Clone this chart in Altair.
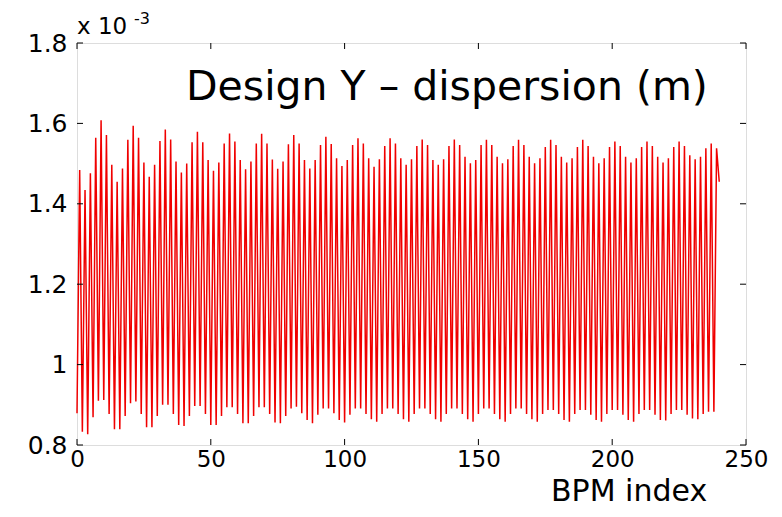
import altair as alt
import pandas as pd

# Design vertical dispersion at BPMs, in units of 1e-3 m
# odd BPM indices 1,3,...,239 (upper points)
highs = [
    1.484, 1.434, 1.476, 1.564, 1.608, 1.571, 1.497, 1.455, 1.488, 1.559, 1.594, 1.564,
    1.503, 1.467, 1.497, 1.556, 1.585, 1.560, 1.505, 1.478, 1.500, 1.553, 1.579, 1.553,
    1.509, 1.482, 1.503, 1.550, 1.575, 1.555, 1.509, 1.486, 1.505, 1.550, 1.574, 1.550,
    1.510, 1.487, 1.505, 1.548, 1.571,
    1.550, 1.509, 1.488, 1.509, 1.546, 1.567, 1.549, 1.513, 1.494, 1.509, 1.546, 1.563,
    1.550, 1.513, 1.492, 1.511, 1.544, 1.563, 1.550, 1.513, 1.497, 1.511, 1.544, 1.560,
    1.546, 1.509, 1.497, 1.511, 1.544, 1.560, 1.546, 1.517, 1.501, 1.509, 1.546, 1.559,
    1.546, 1.517, 1.501, 1.511, 1.544,
    1.559, 1.546, 1.517, 1.501, 1.513, 1.541, 1.559, 1.546, 1.517, 1.503, 1.513, 1.541,
    1.559, 1.544, 1.517, 1.501, 1.513, 1.541, 1.555, 1.544, 1.517, 1.503, 1.513, 1.541,
    1.555, 1.544, 1.517, 1.503, 1.513, 1.541, 1.555, 1.544, 1.521, 1.511, 1.517, 1.538,
    1.550, 1.538,
]
# even BPM indices 0,2,...,238 (lower points)
lows = [
    0.879, 0.833, 0.827, 0.869, 0.910, 0.912, 0.877, 0.839, 0.839, 0.872, 0.904, 0.908,
    0.877, 0.844, 0.844, 0.872, 0.900, 0.900, 0.877, 0.850, 0.847, 0.872, 0.897, 0.897,
    0.877, 0.850, 0.850, 0.872, 0.894, 0.894, 0.877, 0.854, 0.854, 0.872, 0.894, 0.894,
    0.877, 0.856, 0.854, 0.872, 0.891, 0.895,
    0.879, 0.862, 0.854, 0.875, 0.891, 0.891, 0.879, 0.862, 0.856, 0.875, 0.891, 0.891,
    0.877, 0.864, 0.858, 0.877, 0.891, 0.891, 0.877, 0.864, 0.858, 0.877, 0.891, 0.891,
    0.877, 0.864, 0.858, 0.877, 0.891, 0.891, 0.877, 0.864, 0.858, 0.877, 0.891, 0.891,
    0.877, 0.864, 0.858, 0.877, 0.891,
    0.891, 0.877, 0.864, 0.858, 0.877, 0.887, 0.887, 0.877, 0.862, 0.858, 0.877, 0.887,
    0.887, 0.875, 0.862, 0.858, 0.877, 0.887, 0.887, 0.875, 0.862, 0.858, 0.877, 0.887,
    0.887, 0.875, 0.862, 0.861, 0.877, 0.887, 0.887, 0.875, 0.866, 0.864, 0.877, 0.883,
    0.883,
]
last_value = 1.455  # BPM index 240

x_ticks = [0, 50, 100, 150, 200, 250]
y_ticks = [0.8, 1.0, 1.2, 1.4, 1.6, 1.8]

# build the table by interleaving
rows = []
for k in range(len(lows)):
    rows.append({"bpm": 2 * k, "disp": lows[k]})
    rows.append({"bpm": 2 * k + 1, "disp": highs[k]})
rows.append({"bpm": 240, "disp": last_value})
df = pd.DataFrame(rows)

W, H = 669, 402
FONT = "DejaVu Sans"
xscale = alt.Scale(domain=[0, 250], nice=False, zero=False)
yscale = alt.Scale(domain=[0.8, 1.8], nice=False, zero=False)
xaxis = alt.Axis(values=x_ticks, title=None, ticks=False, domain=False, grid=False,
                 labelFont=FONT, labelFontSize=23, labelColor="black",
                 labelPadding=3, labelFlush=False, labelOverlap=False)
yaxis = alt.Axis(values=y_ticks, title=None, ticks=False, domain=False, grid=False,
                 format=".1~f",
                 labelFont=FONT, labelFontSize=25, labelColor="black",
                 labelPadding=10, labelFlush=False, labelOverlap=False)

line = alt.Chart(df).mark_line(color="#f00000", strokeWidth=1.5).encode(
    x=alt.X("bpm:Q", scale=xscale, axis=xaxis, title=None),
    y=alt.Y("disp:Q", scale=yscale, axis=yaxis, title=None),
)

xt = pd.DataFrame({"bpm": x_ticks})
yt = pd.DataFrame({"disp": y_ticks})
TL = 6
tick_bottom = alt.Chart(xt).mark_rule(color="black").encode(
    x=alt.X("bpm:Q", scale=xscale, axis=xaxis, title=None), y=alt.value(H), y2=alt.value(H - TL))
tick_top = alt.Chart(xt).mark_rule(color="black").encode(
    x=alt.X("bpm:Q", scale=xscale, axis=xaxis, title=None), y=alt.value(0), y2=alt.value(TL))
tick_left = alt.Chart(yt).mark_rule(color="black").encode(
    y=alt.Y("disp:Q", scale=yscale, axis=yaxis, title=None), x=alt.value(0), x2=alt.value(TL))
tick_right = alt.Chart(yt).mark_rule(color="black").encode(
    y=alt.Y("disp:Q", scale=yscale, axis=yaxis, title=None), x=alt.value(W), x2=alt.value(W - TL))


def label(text, x, y, size, align="left"):
    return alt.Chart(pd.DataFrame({"t": [text]})).mark_text(
        font=FONT, fontSize=size, color="black", align=align, baseline="alphabetic"
    ).encode(text="t:N", x=alt.value(x), y=alt.value(y))


title_txt = label("Design Y \u2013 dispersion (m)", 109, 57, 41)
exp_base = label("x 10", 0, -9, 23)
exp_sup = label("-3", 57, -19, 16)
xlabel = label("BPM index", 474, 458, 30)

chart = alt.layer(
    line, tick_bottom, tick_top, tick_left, tick_right,
    title_txt, exp_base, exp_sup, xlabel,
).properties(
    width=W, height=H,
    autosize=alt.AutoSizeParams(type="none"),
    padding={"left": 69, "top": 35, "right": 28, "bottom": 64},
).configure_view(stroke="black", strokeWidth=1).configure(background="white")

chart.save("out.html", embed_options={"renderer": "svg", "actions": False})
